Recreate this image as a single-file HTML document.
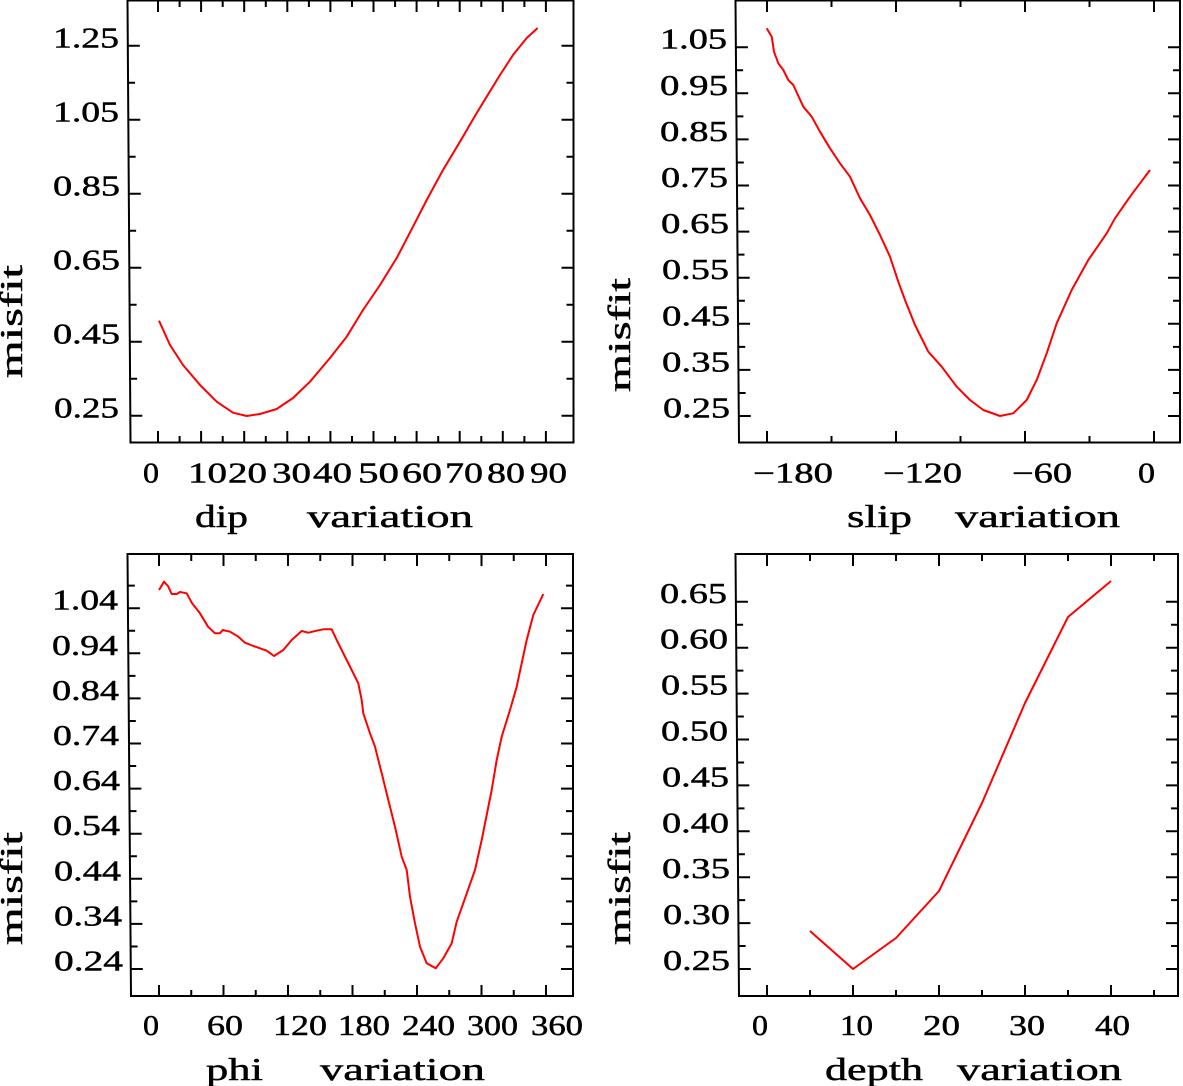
<!DOCTYPE html>
<html>
<head>
<meta charset="utf-8">
<style>
html,body{margin:0;padding:0;background:#fff;}
svg{display:block;}
text{font-family:"Liberation Serif",serif;fill:#000;stroke:#000;stroke-width:0.45;}
.t{font-size:28.5px;}
.a{font-size:32px;}
</style>
</head>
<body>
<svg width="1183" height="1086" viewBox="0 0 1183 1086" xmlns="http://www.w3.org/2000/svg">
<rect width="1183" height="1086" fill="#fff"/>
<g fill="none" stroke="#000" stroke-width="2">
<!-- Panel 1 frame & ticks -->
<path d="M127.5 0.5 L130.5 442.5 L573.5 442.5 L573.5 0.5 Z"/>
<path d="M127.8 45.7h12M128.3 119.7h12M128.8 193.7h12M129.3 267.7h12M129.8 341.7h12M130.3 415.7h12
M128.1 82.7h7M128.6 156.7h7M129.1 230.7h7M129.6 304.7h7M130.1 378.7h7
M573.5 45.7h-12M573.5 119.7h-12M573.5 193.7h-12M573.5 267.7h-12M573.5 341.7h-12M573.5 415.7h-12
M573.5 82.7h-7M573.5 156.7h-7M573.5 230.7h-7M573.5 304.7h-7M573.5 378.7h-7
M158 442v-11M201.1 442v-11M244.2 442v-11M287.3 442v-11M330.4 442v-11M373.5 442v-11M416.6 442v-11M459.7 442v-11M502.8 442v-11M545.9 442v-11
M179.6 442v-6M222.7 442v-6M265.8 442v-6M308.9 442v-6M352 442v-6M395.1 442v-6M438.2 442v-6M481.3 442v-6M524.4 442v-6
M158 0v12M201.1 0v12M244.2 0v12M287.3 0v12M330.4 0v12M373.5 0v12M416.6 0v12M459.7 0v12M502.8 0v12M545.9 0v12
M179.6 0v7M222.7 0v7M265.8 0v7M308.9 0v7M352 0v7M395.1 0v7M438.2 0v7M481.3 0v7M524.4 0v7"/>
<!-- Panel 2 frame & ticks -->
<path d="M735.5 0.5 L739 442.5 L1180 442.5 L1180 0.5 Z"/>
<path d="M735.9 47.2h12M736.2 93.3h12M736.6 139.4h12M737 185.5h12M737.3 231.6h12M737.7 277.7h12M738.1 323.8h12M738.4 369.9h12M738.8 416h12
M736.1 70.25h7M736.4 116.35h7M736.8 162.45h7M737.2 208.55h7M737.5 254.65h7M737.9 300.75h7M738.2 346.85h7M738.6 392.95h7
M1180 47.2h-12M1180 93.3h-12M1180 139.4h-12M1180 185.5h-12M1180 231.6h-12M1180 277.7h-12M1180 323.8h-12M1180 369.9h-12M1180 416h-12
M1180 70.25h-7M1180 116.35h-7M1180 162.45h-7M1180 208.55h-7M1180 254.65h-7M1180 300.75h-7M1180 346.85h-7M1180 392.95h-7
M767 442v-11M896 442v-11M1025 442v-11M1154 442v-11
M831.5 442v-6M960.5 442v-6M1089.5 442v-6
M767 0v12M896 0v12M1025 0v12M1154 0v12
M831.5 0v7M960.5 0v7M1089.5 0v7"/>
<!-- Panel 3 frame & ticks -->
<path d="M127.5 554 L131 996 L573 996 L573 554 Z"/>
<path d="M127.9 608.2h12M128.3 653.3h12M128.6 698.4h12M129 743.5h12M129.4 788.6h12M129.7 833.7h12M130.1 878.8h12M130.4 923.9h12M130.8 969h12
M127.8 585.65h7M128.1 630.75h7M128.5 675.85h7M128.8 720.95h7M129.2 766.05h7M129.5 811.15h7M129.9 856.25h7M130.3 901.35h7M130.6 946.45h7
M573 608.2h-12M573 653.3h-12M573 698.4h-12M573 743.5h-12M573 788.6h-12M573 833.7h-12M573 878.8h-12M573 923.9h-12M573 969h-12
M573 585.65h-7M573 630.75h-7M573 675.85h-7M573 720.95h-7M573 766.05h-7M573 811.15h-7M573 856.25h-7M573 901.35h-7M573 946.45h-7
M159 996v-11M223.5 996v-11M288 996v-11M352.5 996v-11M417 996v-11M481.5 996v-11M546 996v-11
M191.25 996v-6M255.75 996v-6M320.25 996v-6M384.75 996v-6M449.25 996v-6M513.75 996v-6
M159 554v12M223.5 554v12M288 554v12M352.5 554v12M417 554v12M481.5 554v12M546 554v12
M191.25 554v7M255.75 554v7M320.25 554v7M384.75 554v7M449.25 554v7M513.75 554v7"/>
<!-- Panel 4 frame & ticks -->
<path d="M735.5 554 L739 996 L1178 996 L1178 554 Z"/>
<path d="M735.9 601.8h12M736.2 647.7h12M736.6 693.6h12M737 739.5h12M737.3 785.4h12M737.7 831.3h12M738.1 877.2h12M738.4 923.1h12M738.8 969h12
M736.1 624.75h7M736.4 670.65h7M736.8 716.55h7M737.1 762.45h7M737.5 808.35h7M737.9 854.25h7M738.2 900.15h7M738.6 946.05h7
M1178 601.8h-12M1178 647.7h-12M1178 693.6h-12M1178 739.5h-12M1178 785.4h-12M1178 831.3h-12M1178 877.2h-12M1178 923.1h-12M1178 969h-12
M1178 624.75h-7M1178 670.65h-7M1178 716.55h-7M1178 762.45h-7M1178 808.35h-7M1178 854.25h-7M1178 900.15h-7M1178 946.05h-7
M767 996v-11M853 996v-11M939 996v-11M1025 996v-11M1111 996v-11
M810 996v-6M896 996v-6M982 996v-6M1068 996v-6M1154 996v-6
M767 554v12M853 554v12M939 554v12M1025 554v12M1111 554v12
M810 554v7M896 554v7M982 554v7M1068 554v7M1154 554v7"/>
</g>

<!-- Curves -->
<g fill="none" stroke="#ff0000" stroke-width="2" stroke-linejoin="round">
<polyline points="159,320.7 170,345 183,365 200,385 216.7,401.7 233,412.7 246.7,416 260,414 276.7,409 293,398 310,381.7 330,358 346.7,336.7 363,310 380,285 396.7,258 413,226.7 426.7,200 443,170 460,141.7 476.7,113 486.7,96.7 500,75 513,55 526.7,38 537.7,28"/>
<polyline points="766.7,28.3 771.7,36.7 774,51.7 778.3,63.3 783.3,70 788.3,80 793.3,85 803.3,106.7 811.7,116.7 820,131.7 830,148.3 840,163.3 850,176.7 860,198.3 870,215 880,235 890,256.7 898.3,281.7 905,300 915,325 928.3,351.7 941.7,366.7 956.7,386.7 970,400 983.3,410 1000,416 1013.3,413.3 1026.7,400 1036.7,380 1046.7,353.3 1056.7,323.3 1071.7,290 1088.3,260 1106.7,233.3 1115,218.3 1130,196.7 1140,183.3 1150,170"/>
<polyline points="159,590 164,581.7 168,586 171.7,594 176.7,594 180,592 186.7,593.3 191.7,602.7 200,613.3 208,626.7 215,633.3 220,633.3 222.7,630 230,631.7 238.3,636.7 245,642.7 253.3,646 260,648.3 266.7,650.7 274,656 283.3,650 291.7,640 301.7,631 308.3,632.7 316.7,630.7 323.3,629.3 331.7,629.3 336.7,640 343.3,653.3 351.7,670 358.3,683.3 361.7,700 363.3,713.3 370,733.3 375,746.7 381.7,773.3 388.3,800 395,826.7 401.7,856.7 406.7,870 410,896.7 415,923.3 420,946.7 426.7,963.3 435.7,968.3 443.3,958.3 451.7,943.3 456.7,921.7 465,898.3 475,870 481.7,840 486.7,815 491.7,790 496.7,760 501.7,736.7 510,710 516.7,686.7 521.7,663.3 526.7,640 533.3,615 543.3,594"/>
<polyline points="810,931 853,969 896,938 939,891 982,803 1025,703 1068,617 1111,581"/>
</g>

<!-- Panel 1 labels -->
<g class="t">
<text x="53" y="47.7" textLength="66" lengthAdjust="spacingAndGlyphs">1.25</text>
<text x="53" y="121.7" textLength="66" lengthAdjust="spacingAndGlyphs">1.05</text>
<text x="53" y="195.7" textLength="67" lengthAdjust="spacingAndGlyphs">0.85</text>
<text x="53" y="269.7" textLength="67" lengthAdjust="spacingAndGlyphs">0.65</text>
<text x="53" y="343.7" textLength="67" lengthAdjust="spacingAndGlyphs">0.45</text>
<text x="54" y="417.7" textLength="65" lengthAdjust="spacingAndGlyphs">0.25</text>
<text x="143" y="482.5" textLength="16" lengthAdjust="spacingAndGlyphs">0</text>
<text x="188" y="482.5" textLength="39" lengthAdjust="spacingAndGlyphs">10</text>
<text x="228" y="482.5" textLength="39" lengthAdjust="spacingAndGlyphs">20</text>
<text x="272" y="482.5" textLength="39" lengthAdjust="spacingAndGlyphs">30</text>
<text x="313" y="482.5" textLength="39" lengthAdjust="spacingAndGlyphs">40</text>
<text x="358" y="482.5" textLength="41" lengthAdjust="spacingAndGlyphs">50</text>
<text x="402" y="482.5" textLength="40" lengthAdjust="spacingAndGlyphs">60</text>
<text x="445" y="482.5" textLength="38" lengthAdjust="spacingAndGlyphs">70</text>
<text x="487" y="482.5" textLength="38" lengthAdjust="spacingAndGlyphs">80</text>
<text x="530" y="482.5" textLength="37" lengthAdjust="spacingAndGlyphs">90</text>
</g>
<g class="a">
<text x="195" y="527" textLength="53" lengthAdjust="spacingAndGlyphs">dip</text>
<text x="307" y="527" textLength="166" lengthAdjust="spacingAndGlyphs">variation</text>
<text transform="translate(22,378) rotate(-90)" x="0" y="0" textLength="113" lengthAdjust="spacingAndGlyphs">misfit</text>
</g>

<!-- Panel 2 labels -->
<g class="t">
<text x="660" y="48.7" textLength="67" lengthAdjust="spacingAndGlyphs">1.05</text>
<text x="660" y="94.8" textLength="68" lengthAdjust="spacingAndGlyphs">0.95</text>
<text x="660" y="140.9" textLength="68" lengthAdjust="spacingAndGlyphs">0.85</text>
<text x="661" y="187" textLength="67" lengthAdjust="spacingAndGlyphs">0.75</text>
<text x="661" y="233.1" textLength="68" lengthAdjust="spacingAndGlyphs">0.65</text>
<text x="662" y="279.2" textLength="67" lengthAdjust="spacingAndGlyphs">0.55</text>
<text x="662" y="325.3" textLength="68" lengthAdjust="spacingAndGlyphs">0.45</text>
<text x="662" y="371.4" textLength="68" lengthAdjust="spacingAndGlyphs">0.35</text>
<text x="663" y="417.5" textLength="67" lengthAdjust="spacingAndGlyphs">0.25</text>
<text x="753" y="482.5" textLength="80" lengthAdjust="spacingAndGlyphs">−180</text>
<text x="883" y="482.5" textLength="79" lengthAdjust="spacingAndGlyphs">−120</text>
<text x="1012" y="482.5" textLength="60" lengthAdjust="spacingAndGlyphs">−60</text>
<text x="1138" y="482.5" textLength="17" lengthAdjust="spacingAndGlyphs">0</text>
</g>
<g class="a">
<text x="847" y="527" textLength="65" lengthAdjust="spacingAndGlyphs">slip</text>
<text x="955" y="527" textLength="165" lengthAdjust="spacingAndGlyphs">variation</text>
<text transform="translate(630,392) rotate(-90)" x="0" y="0" textLength="114" lengthAdjust="spacingAndGlyphs">misfit</text>
</g>

<!-- Panel 3 labels -->
<g class="t">
<text x="52" y="609.7" textLength="66" lengthAdjust="spacingAndGlyphs">1.04</text>
<text x="52" y="654.8" textLength="66" lengthAdjust="spacingAndGlyphs">0.94</text>
<text x="52" y="699.9" textLength="67" lengthAdjust="spacingAndGlyphs">0.84</text>
<text x="53" y="745" textLength="66" lengthAdjust="spacingAndGlyphs">0.74</text>
<text x="53" y="790.1" textLength="67" lengthAdjust="spacingAndGlyphs">0.64</text>
<text x="53" y="835.2" textLength="67" lengthAdjust="spacingAndGlyphs">0.54</text>
<text x="54" y="880.3" textLength="67" lengthAdjust="spacingAndGlyphs">0.44</text>
<text x="54" y="925.4" textLength="68" lengthAdjust="spacingAndGlyphs">0.34</text>
<text x="54" y="970.5" textLength="69" lengthAdjust="spacingAndGlyphs">0.24</text>
<text x="143" y="1035" textLength="16" lengthAdjust="spacingAndGlyphs">0</text>
<text x="207" y="1035" textLength="36" lengthAdjust="spacingAndGlyphs">60</text>
<text x="273" y="1035" textLength="54" lengthAdjust="spacingAndGlyphs">120</text>
<text x="338" y="1035" textLength="52" lengthAdjust="spacingAndGlyphs">180</text>
<text x="402" y="1035" textLength="53" lengthAdjust="spacingAndGlyphs">240</text>
<text x="467" y="1035" textLength="51" lengthAdjust="spacingAndGlyphs">300</text>
<text x="531" y="1035" textLength="52" lengthAdjust="spacingAndGlyphs">360</text>
</g>
<g class="a">
<text x="206" y="1080" textLength="57" lengthAdjust="spacingAndGlyphs">phi</text>
<text x="320" y="1080" textLength="165" lengthAdjust="spacingAndGlyphs">variation</text>
<text transform="translate(22,945) rotate(-90)" x="0" y="0" textLength="113" lengthAdjust="spacingAndGlyphs">misfit</text>
</g>

<!-- Panel 4 labels -->
<g class="t">
<text x="660" y="602.8" textLength="67" lengthAdjust="spacingAndGlyphs">0.65</text>
<text x="660" y="648.7" textLength="68" lengthAdjust="spacingAndGlyphs">0.60</text>
<text x="661" y="694.6" textLength="67" lengthAdjust="spacingAndGlyphs">0.55</text>
<text x="661" y="740.5" textLength="67" lengthAdjust="spacingAndGlyphs">0.50</text>
<text x="662" y="786.4" textLength="67" lengthAdjust="spacingAndGlyphs">0.45</text>
<text x="662" y="832.3" textLength="67" lengthAdjust="spacingAndGlyphs">0.40</text>
<text x="662" y="878.2" textLength="68" lengthAdjust="spacingAndGlyphs">0.35</text>
<text x="663" y="924.1" textLength="67" lengthAdjust="spacingAndGlyphs">0.30</text>
<text x="663" y="970" textLength="67" lengthAdjust="spacingAndGlyphs">0.25</text>
<text x="752" y="1035" textLength="16" lengthAdjust="spacingAndGlyphs">0</text>
<text x="840" y="1035" textLength="33" lengthAdjust="spacingAndGlyphs">10</text>
<text x="923" y="1035" textLength="37" lengthAdjust="spacingAndGlyphs">20</text>
<text x="1009" y="1035" textLength="36" lengthAdjust="spacingAndGlyphs">30</text>
<text x="1095" y="1035" textLength="35" lengthAdjust="spacingAndGlyphs">40</text>
</g>
<g class="a">
<text x="825" y="1080" textLength="98" lengthAdjust="spacingAndGlyphs">depth</text>
<text x="957" y="1080" textLength="165" lengthAdjust="spacingAndGlyphs">variation</text>
<text transform="translate(630,945) rotate(-90)" x="0" y="0" textLength="113" lengthAdjust="spacingAndGlyphs">misfit</text>
</g>
</svg>
</body>
</html>
